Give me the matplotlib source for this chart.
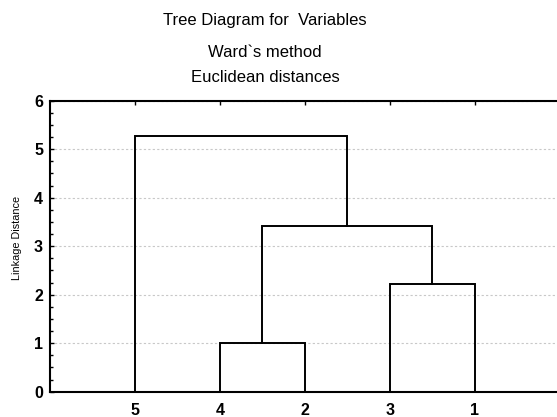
"""plot.py — tree diagram (Ward's method, Euclidean distances)"""
import matplotlib
matplotlib.use("Agg")
import matplotlib.pyplot as plt
from matplotlib.ticker import MultipleLocator

plt.rcParams["font.family"] = ["Liberation Sans", "DejaVu Sans"]

# leaf order along the x axis
leaf_labels = ["5", "4", "2", "3", "1"]
# merges: (left cluster, right cluster, linkage distance); clusters are leaf labels or merge ids "c0".."c3"
merge_left   = ["4", "3", "c0", "5"]
merge_right  = ["2", "1", "c1", "c2"]
merge_height = [1.00, 2.23, 3.42, 5.27]

TITLE = ["Tree Diagram for  Variables", "Ward`s method", "Euclidean distances"]


def main():
    fig = plt.figure(figsize=(5.57, 4.17), dpi=100)
    ax = fig.add_axes([50 / 557, 25.3 / 417, 507 / 557, 291 / 417])

    # x and height of each node
    pos = {lab: i + 1 for i, lab in enumerate(leaf_labels)}
    hgt = {lab: 0.0 for lab in leaf_labels}
    for k, (a, b, h) in enumerate(zip(merge_left, merge_right, merge_height)):
        xa, xb = pos[a], pos[b]
        ax.plot([xa, xa, xb, xb], [hgt[a], h, h, hgt[b]], color="black", lw=1.4,
                solid_joinstyle="miter", zorder=3)
        pos[f"c{k}"] = (xa + xb) / 2
        hgt[f"c{k}"] = h

    ax.set_xlim(0, 5.965)
    ax.set_ylim(0, 6)
    ax.set_xticks(range(1, len(leaf_labels) + 1))
    ax.set_xticklabels(leaf_labels, fontweight="bold", fontsize=11.5)
    ax.yaxis.set_major_locator(MultipleLocator(1))
    ax.yaxis.set_minor_locator(MultipleLocator(0.25))
    for t in ax.get_yticklabels():
        t.set_fontweight("bold"); t.set_fontsize(11.5)

    ax.tick_params(axis="x", which="both", direction="in", bottom=False, top=True,
                   length=3, width=1, pad=8)
    ax.tick_params(axis="y", which="major", direction="in", length=3, width=1, pad=5)
    ax.tick_params(axis="y", which="minor", direction="in", length=2.5, width=1)
    ax.spines["right"].set_visible(False)
    for s in ("left", "top", "bottom"):
        ax.spines[s].set_linewidth(1.5)

    ax.grid(axis="y", which="major", color="#c8c8c8", linestyle=(0, (2, 2)), lw=0.8)
    ax.set_axisbelow(True)

    ax.set_ylabel("Linkage Distance", fontsize=7.8)
    ax.yaxis.set_label_coords(-0.055, 0.527)

    xc = 265 / 557
    for txt, yb in zip(TITLE, [25, 57, 81.5]):
        fig.text(xc, 1 - yb / 417, txt, ha="center", va="baseline", fontsize=12)

    fig.savefig("out.png", dpi=100)
    plt.close(fig)


if __name__ == "__main__":
    main()
